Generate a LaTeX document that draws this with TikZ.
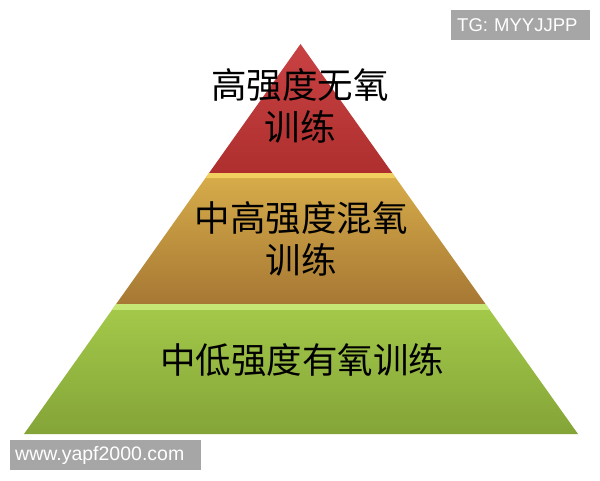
\documentclass[tikz,border=0pt]{standalone}
\usepackage{fontspec}
\setmainfont{Liberation Sans}
\newfontfamily\cjk{Noto Sans CJK SC}
\usetikzlibrary{calc}
\definecolor{redT}{HTML}{C94243}
\definecolor{redB}{HTML}{AE2F2E}
\definecolor{goldT}{HTML}{D8AD4A}
\definecolor{goldB}{HTML}{A67834}
\definecolor{goldH}{HTML}{F2D060}
\definecolor{greenT}{HTML}{A4CA4A}
\definecolor{greenB}{HTML}{84A438}
\definecolor{greenH}{HTML}{C6E676}
\definecolor{wmgray}{HTML}{A6A6A6}
\tikzset{
  tiertext/.style={font=\cjk\fontsize{35.5}{42}\selectfont, text=black, align=center, inner sep=0pt},
  wmbox/.style={fill=wmgray, text=white, inner sep=0pt, anchor=west},
}
\begin{document}
\begin{tikzpicture}[x=1pt,y=-1pt]
\useasboundingbox (0,0) rectangle (600,480);
\coordinate (apex) at (300.5,44);
\coordinate (bl) at (24,434);
\coordinate (br) at (578,434);
\coordinate (l1) at ($(apex)!0.3308!(bl)$);
\coordinate (r1) at ($(apex)!0.3308!(br)$);
\coordinate (l2) at ($(apex)!0.6667!(bl)$);
\coordinate (r2) at ($(apex)!0.6667!(br)$);
\coordinate (l1h) at ($(apex)!0.3436!(bl)$);
\coordinate (r1h) at ($(apex)!0.3436!(br)$);
\coordinate (l2h) at ($(apex)!0.6820!(bl)$);
\coordinate (r2h) at ($(apex)!0.6820!(br)$);
% tiers
\shade[top color=redT, bottom color=redB] (apex) -- (r1) -- (l1) -- cycle;
\shade[top color=goldT, bottom color=goldB] (l1) -- (r1) -- (r2) -- (l2) -- cycle;
\shade[top color=greenT, bottom color=greenB] (l2) -- (r2) -- (br) -- (bl) -- cycle;
% bevel highlights
\fill[goldH] (l1) -- (r1) -- (r1h) -- (l1h) -- cycle;
\fill[greenH] (l2) -- (r2) -- (r2h) -- (l2h) -- cycle;
% labels
\node[tiertext] (t1) at (300,106) {高强度无氧\\训练};
\node[tiertext] (t2) at (301,239) {中高强度混氧\\训练};
\node[tiertext] (t3) at (302,360) {中低强度有氧训练};
% watermarks
\node[wmbox, minimum width=139pt, minimum height=30pt, text width=135pt, align=left, font=\fontsize{18.5}{20}\selectfont] (wm1) at (451,25) {\hspace*{4pt}TG: MYYJJPP};
\node[wmbox, minimum width=191pt, minimum height=30pt, text width=187pt, align=left, font=\fontsize{19.5}{21}\selectfont] (wm2) at (10,455) {\hspace*{3pt}www.yapf2000.com};
\end{tikzpicture}
\end{document}
